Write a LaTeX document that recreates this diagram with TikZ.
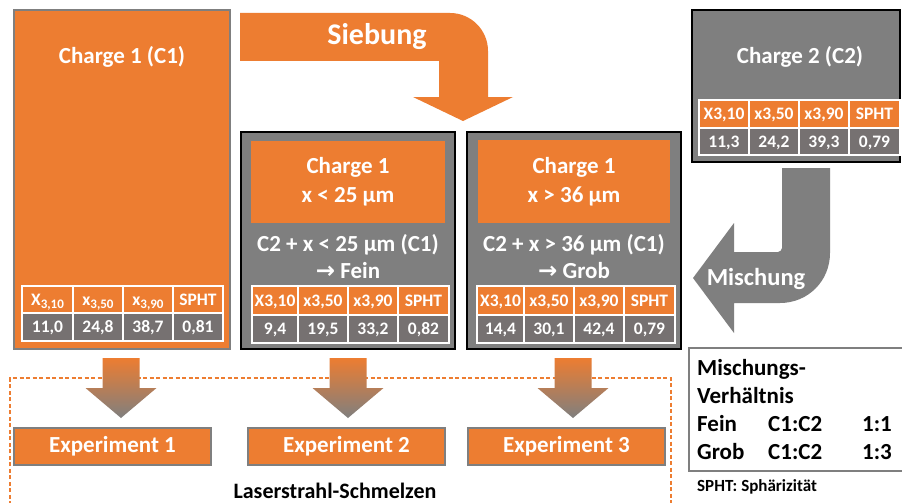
\documentclass[tikz,border=0pt]{standalone}
\usepackage{fontspec}
\setmainfont{Carlito}
\newfontfamily\symf{DejaVu Sans}
\definecolor{myor}{HTML}{ED7D31}
\definecolor{mygr}{HTML}{7F7F7F}
\definecolor{mydk}{HTML}{767171}
\newcommand\bigf{\fontsize{23}{28}\selectfont\bfseries}
\newcommand\sieb{\fontsize{30}{34}\selectfont\bfseries}
\newcommand\tabf{\fontsize{17.5}{20}\selectfont\bfseries}
\newcommand\notef{\fontsize{17}{20}\selectfont\bfseries}
\newcommand\subx[1]{\raisebox{-3.5pt}{\fontsize{13}{15}\selectfont #1}}
% table: #1 prefix, #2..#6 column x, #7..#9 row y
\newcommand\tabgrid[9]{%
  \fill[myor] (#2,#7) rectangle (#6,#8);
  \fill[mydk] (#2,#8) rectangle (#6,#9);
  \draw[white,line width=1.2pt] (#2,#7) rectangle (#6,#9) (#2,#8) -- (#6,#8)
     (#3,#7) -- (#3,#9) (#4,#7) -- (#4,#9) (#5,#7) -- (#5,#9);
  \node[tabtxt] (#1h1) at ({(#2+#3)/2},{(#7+#8)/2}) {\hA};
  \node[tabtxt] (#1h2) at ({(#3+#4)/2},{(#7+#8)/2}) {\hB};
  \node[tabtxt] (#1h3) at ({(#4+#5)/2},{(#7+#8)/2}) {\hC};
  \node[tabtxt] (#1h4) at ({(#5+#6)/2},{(#7+#8)/2}) {\hD};
  \node[tabtxt] (#1d1) at ({(#2+#3)/2},{(#8+#9)/2}) {\dA};
  \node[tabtxt] (#1d2) at ({(#3+#4)/2},{(#8+#9)/2}) {\dB};
  \node[tabtxt] (#1d3) at ({(#4+#5)/2},{(#8+#9)/2}) {\dC};
  \node[tabtxt] (#1d4) at ({(#5+#6)/2},{(#8+#9)/2}) {\dD};
}
\newcommand\dnarrow[1]{%
  \shade[top color=myor, bottom color=mygr] (#1) ++(-18.5,0) -- ++(37,0) -- ++(0,30)
    -- ++(17,0) -- ++(-35.5,30) -- ++(-35.5,-30) -- ++(17,0) -- cycle;
}
\begin{document}
\begin{tikzpicture}[x=1pt,y=-1pt,
  wtxt/.style={text=white, font=\bigf, align=center, inner sep=0pt},
  btxt/.style={text=black, font=\bigf, inner sep=0pt, anchor=west, text height=15pt, text depth=0pt},
  tabtxt/.style={text=white, font=\tabf, inner sep=0pt, text height=11.5pt, text depth=0pt},
  expbox/.style={draw=mygr, line width=2pt, fill=myor, minimum width=197pt, minimum height=37pt,
     inner sep=0pt, text=white, font=\bigf},
  graybox/.style={draw=black, line width=2pt, fill=mygr, inner sep=0pt}]
\useasboundingbox (0,0) rectangle (902,503);
\fill[white] (0,0) rectangle (902,503);

% dashed frame
\coordinate (fl) at (10,505);
\coordinate (fr) at (671,505);
\draw[myor, line width=1.4pt, dash pattern=on 4pt off 2.5pt] (fl) |- (341,378) -| (fr);

% Charge 1 box
\node[draw=mygr, line width=2pt, fill=myor, minimum width=216pt, minimum height=339pt, inner sep=0pt] (c1) at (122,179.5) {};
\node[wtxt] (c1t) at (122,57) {Charge 1 (C1)};
\def\hA{X\subx{3,10}}\def\hB{x\subx{3,50}}\def\hC{x\subx{3,90}}\def\hD{SPHT}
\def\dA{11,0}\def\dB{24,8}\def\dC{38,7}\def\dD{0,81}
\tabgrid{ta}{22}{73}{123}{173}{223}{286}{313}{341}

% Siebung arrow
\fill[myor] (240,13) -- (450,13) .. controls (471,13) and (488,30) .. (488,51) -- (488,97)
  -- (513,97) -- (463,121) -- (413,97) -- (439,97) -- (439,61) -- (240,61) -- cycle;
\node[wtxt, font=\sieb] (sieb) at (377,37) {Siebung};

% Box 2
\node[graybox, minimum width=214pt, minimum height=217pt] (b2) at (348,240.5) {};
\node[fill=myor, minimum width=194pt, minimum height=82pt, inner sep=0pt] (b2i) at (348,182) {};
\node[wtxt, align=center] (b2t) at (b2i) {Charge 1\\[1pt]x < 25 µm};
\node[wtxt] (b2s) at (348,256.5) {C2 + x < 25 µm (C1)\\[-1pt]{\symf →} Fein};
\def\hA{X3,10}\def\hB{x3,50}\def\hC{x3,90}\def\hD{SPHT}
\def\dA{9,4}\def\dB{19,5}\def\dC{33,2}\def\dD{0,82}
\tabgrid{tb}{252}{298}{348}{398}{449}{286}{315}{343}

% Box 3
\node[graybox, minimum width=214pt, minimum height=217pt] (b3) at (574,240.5) {};
\node[fill=myor, minimum width=192pt, minimum height=83pt, inner sep=0pt] (b3i) at (574,181.5) {};
\node[wtxt, align=center] (b3t) at (b3i) {Charge 1\\[1pt]x > 36 µm};
\node[wtxt] (b3s) at (574,256.5) {C2 + x > 36 µm (C1)\\[-1pt]{\symf →} Grob};
\def\dA{14,4}\def\dB{30,1}\def\dC{42,4}\def\dD{0,79}
\tabgrid{tc}{477}{524}{574}{624}{675}{286}{315}{343}

% Charge 2 box
\node[graybox, minimum width=208pt, minimum height=152pt] (c2) at (796,86) {};
\node[wtxt] (c2t) at (800,57) {Charge 2 (C2)};
\def\dA{11,3}\def\dB{24,2}\def\dC{39,3}\def\dD{0,79}
\tabgrid{td}{699}{749}{799}{849}{900}{100}{128}{155}

% Mischung arrow
\fill[mygr] (782,168) -- (830,168) -- (830,253) .. controls (830,281) and (808,303) .. (780,303)
  -- (734,303) -- (734,333) -- (693,278) -- (734,223) -- (734,252) -- (778,252)
  .. controls (780,252) and (782,250) .. (782,248) -- cycle;
\node[wtxt, font=\fontsize{24.5}{28}\selectfont\bfseries] (misch) at (756,279) {Mischung};

% down arrows
\coordinate (a1) at (121,358);
\coordinate (a2) at (348,358);
\coordinate (a3) at (573,358);
\dnarrow{a1}
\dnarrow{a2}
\dnarrow{a3}

% experiments
\node[expbox] (e1) at (112.5,446.5) {Experiment 1};
\node[expbox] (e2) at (346.5,446.5) {Experiment 2};
\node[expbox] (e3) at (566.5,446.5) {Experiment 3};
\node[text=black, font=\fontsize{22}{26}\selectfont\bfseries, inner sep=0pt] (lsm) at (335,491) {Laserstrahl-Schmelzen};

% Mischungsverhaeltnis box
\node[draw=mygr, line width=2pt, fill=white, minimum width=216pt, minimum height=123pt, inner sep=0pt] (mv) at (797,409.5) {};
\node[btxt] (mv1) at (697,368) {Mischungs-};
\node[btxt] (mv2) at (697,396) {Verhältnis};
\node[btxt] (mv3) at (697,424) {Fein};
\node[btxt] (mv4) at (768,424) {C1:C2};
\node[btxt] (mv5) at (862,424) {1:1};
\node[btxt] (mv6) at (697,452) {Grob};
\node[btxt] (mv7) at (768,452) {C1:C2};
\node[btxt] (mv8) at (862,452) {1:3};
\node[text=black, font=\notef, inner sep=0pt, anchor=west, text height=11pt, text depth=0pt] (note) at (697,486) {SPHT: Sphärizität};
\end{tikzpicture}
\end{document}
